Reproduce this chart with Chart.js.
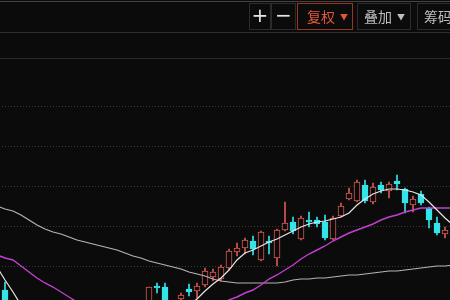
<!DOCTYPE html>
<html>
<head>
<meta charset="utf-8">
<script src="https://cdn.jsdelivr.net/npm/chart.js@4"></script>
<style>
    html, body { margin: 0; padding: 0; background: #0b0b0b; }
    #wrap { position: relative; width: 450px; height: 300px; overflow: hidden; background: #0b0b0b; }
    #wrap canvas { position: absolute; left: -7px; top: 0; }
    .hline { position: absolute; left: 0; width: 450px; height: 1px; }
    .btn {
        position: absolute; top: 3px; height: 27px; box-sizing: border-box;
        border: 1px solid #2b2b2b; color: #bdbdbd;
        font-family: "Noto Sans CJK SC", sans-serif; font-size: 14px;
        line-height: 24px; white-space: nowrap; overflow: hidden;
    }
    .btn .tri { font-size: 8px; vertical-align: 2px; margin-left: 5px; }
    .sym { color: #e6e6e6; font-family: "DejaVu Sans", sans-serif; font-size: 20px; text-align: center; line-height: 23px; }
</style>
</head>
<body>
<div id="wrap">
    <canvas id="klineChart" width="464" height="300"></canvas>
    <div class="hline" style="top:1px;background:#444"></div>
    <div class="hline" style="top:32px;background:#2e2e2e"></div>
    <div class="hline" style="top:58px;background:#2a2a2a"></div>
    <div class="btn sym" style="left:249px;width:22px">+</div>
    <div class="btn sym" style="left:271px;width:25px">−</div>
    <div class="btn" style="left:297px;width:56px;border-color:#9c3424;color:#e2553b;padding-left:9px">复权<span class="tri">▼</span></div>
    <div class="btn" style="left:357px;width:54px;padding-left:6px">叠加<span class="tri">▼</span></div>
    <div class="btn" style="left:417px;width:45px;padding-left:6px">筹码</div>
</div>
<script>
// trading days: first and last sit just outside the frame (only the MA lines reach in)
const days = ['0','1','2','3','4','5','6','7','8','9','10','11','12','13','14','15','16','17','18','19','20',
    '21','22','23','24','25','26','27','28','29','30','31','32','33','34','35','36','37','38','39','40',
    '41','42','43','44','45','46','47','48','49','50','51','52','53','54','55','56','57'];

// candles: null where the candle sits below / outside the visible range
const openVals = [null, 10, null, null, null, null, null, null, null, null, null, null, null, null, null, null, null, null, null,
    -5, 14, 13, null, 1, 11, 9, 15, 23, 21, 32, 48, 52, 59, 40, 59, 42, 70, 78, 61, 80, 80, 78, 61, 84, 101, 99, 115,
    98, 115, 109, 119, 111, 95, 106, 92, 77, 66, null];
const closeVals = [null, -8, null, null, null, null, null, null, null, null, null, null, null, null, null, null, null, null, null,
    13, 12, -6, null, 5, 8, 14, 29, 28, 33, 49, 52, 60, 51, 68, 57, 70, 77, 69, 82, 78, 76, 62, 82, 94, 107, 118, 99,
    113, 110, 116, 116, 97, 101, 97, 80, 67, 70, null];
const highVals = [null, 18, null, null, null, null, null, null, null, null, null, null, null, null, null, null, null, null, null,
    13, 17, 17, null, 7, 16, 17, 32, 31, 35, 51, 57, 62, 64, 69, 64, 71, 98, 83, 84, 88, 83, 85, 84, 97, 112, 120, 120,
    117, 118, 118, 125, 112, 104, 109, 93, 83, 73, null];
const lowVals = [null, -12, null, null, null, null, null, null, null, null, null, null, null, null, null, null, null, null, null,
    -8, 7, -9, null, -1, 4, 2, 13, 19, 19, 30, 44, 46, 45, 39, 46, 34, 69, 66, 60, 73, 73, 60, 60, 83, 100, 98, 97,
    96, 107, 102, 110, 87, 88, 95, 72, 65, 62, null];

// moving averages
const ma5 = [33, 20, 8, -5, null, null, null, null, null, null, null, null, null, null, null, null, null, null, null,
    null, null, null, null, null, -5, 1, 9, 16, 22, 30, 40, 47, 50, 54, 58, 61, 65, 69, 73, 76, 78, 79, 81, 83, 87,
    95, 101, 106, 109, 111, 111, 110, 108, 105, 98, 90, 82, 75];
const ma20 = [45, 42, 40, 34, 28, 22, 17, 13, 8, 3, -2, null, null, null, null, null, null, null, null, null, null,
    null, null, null, null, null, null, null, -5, 0, 3, 7, 10, 15, 21, 25, 30, 35, 41, 46, 50, 54, 59, 63, 67, 70,
    73, 76, 80, 83, 85, 88, 90, 92, 92, 92, 92, 92];
const ma60 = [94, 91, 89, 85, 80, 75, 71, 68, 66, 63, 60, 58, 56, 54, 52, 50, 47, 44, 42, 39, 37, 35, 33, 31, 28, 26,
    24, 21, 19, 18, 17, 17, 17, 17, 17, 17, 18, 20, 21, 21, 22, 22, 23, 24, 25, 25, 26, 27, 28, 29, 29, 30, 31, 32,
    33, 34, 34, 35];

const gridVals = [34, 74, 114, 154, 194];

const UP = '#d95a56';
const DOWN = '#33e4ea';
const BG = '#0b0b0b';

function renderKline() {
    const ctx = document.getElementById('klineChart').getContext('2d');

    const bodies = openVals.map((o, i) => (o === null ? null : [o, closeVals[i]]));
    const wicks = lowVals.map((l, i) => (l === null ? null : [l, highVals[i]]));
    const isUp = openVals.map((o, i) => o !== null && closeVals[i] >= o);

    new Chart(ctx, {
        type: 'bar',
        data: {
            labels: days,
            datasets: [
                { type: 'line', label: 'MA5', data: ma5, borderColor: '#e6e6e6', borderWidth: 1.2, pointRadius: 0, order: 0 },
                { type: 'line', label: 'MA20', data: ma20, borderColor: '#c23fcf', borderWidth: 1.4, pointRadius: 0, order: 0 },
                { type: 'line', label: 'MA60', data: ma60, borderColor: '#b4b4b4', borderWidth: 1.2, pointRadius: 0, order: 0 },
                {
                    label: 'body',
                    data: bodies,
                    backgroundColor: isUp.map(u => (u ? BG : DOWN)),
                    borderColor: isUp.map(u => (u ? UP : DOWN)),
                    borderWidth: 1,
                    borderSkipped: false,
                    barThickness: 6,
                    grouped: false,
                    order: 1
                },
                {
                    label: 'wick',
                    data: wicks,
                    backgroundColor: isUp.map(u => (u ? UP : DOWN)),
                    barThickness: 1,
                    grouped: false,
                    order: 2
                }
            ]
        },
        options: {
            responsive: false,
            animation: false,
            layout: { padding: 0 },
            plugins: { legend: { display: false }, tooltip: { enabled: false } },
            scales: {
                x: { display: false },
                y: {
                    min: 0,
                    max: 300,
                    afterBuildTicks: scale => { scale.ticks = gridVals.map(v => ({ value: v })); },
                    ticks: { display: false },
                    grid: { color: '#3a3a3a', drawTicks: false, lineWidth: 1 },
                    border: { display: false, dash: [1, 2] }
                }
            }
        }
    });
}

renderKline();
</script>
</body>
</html>
